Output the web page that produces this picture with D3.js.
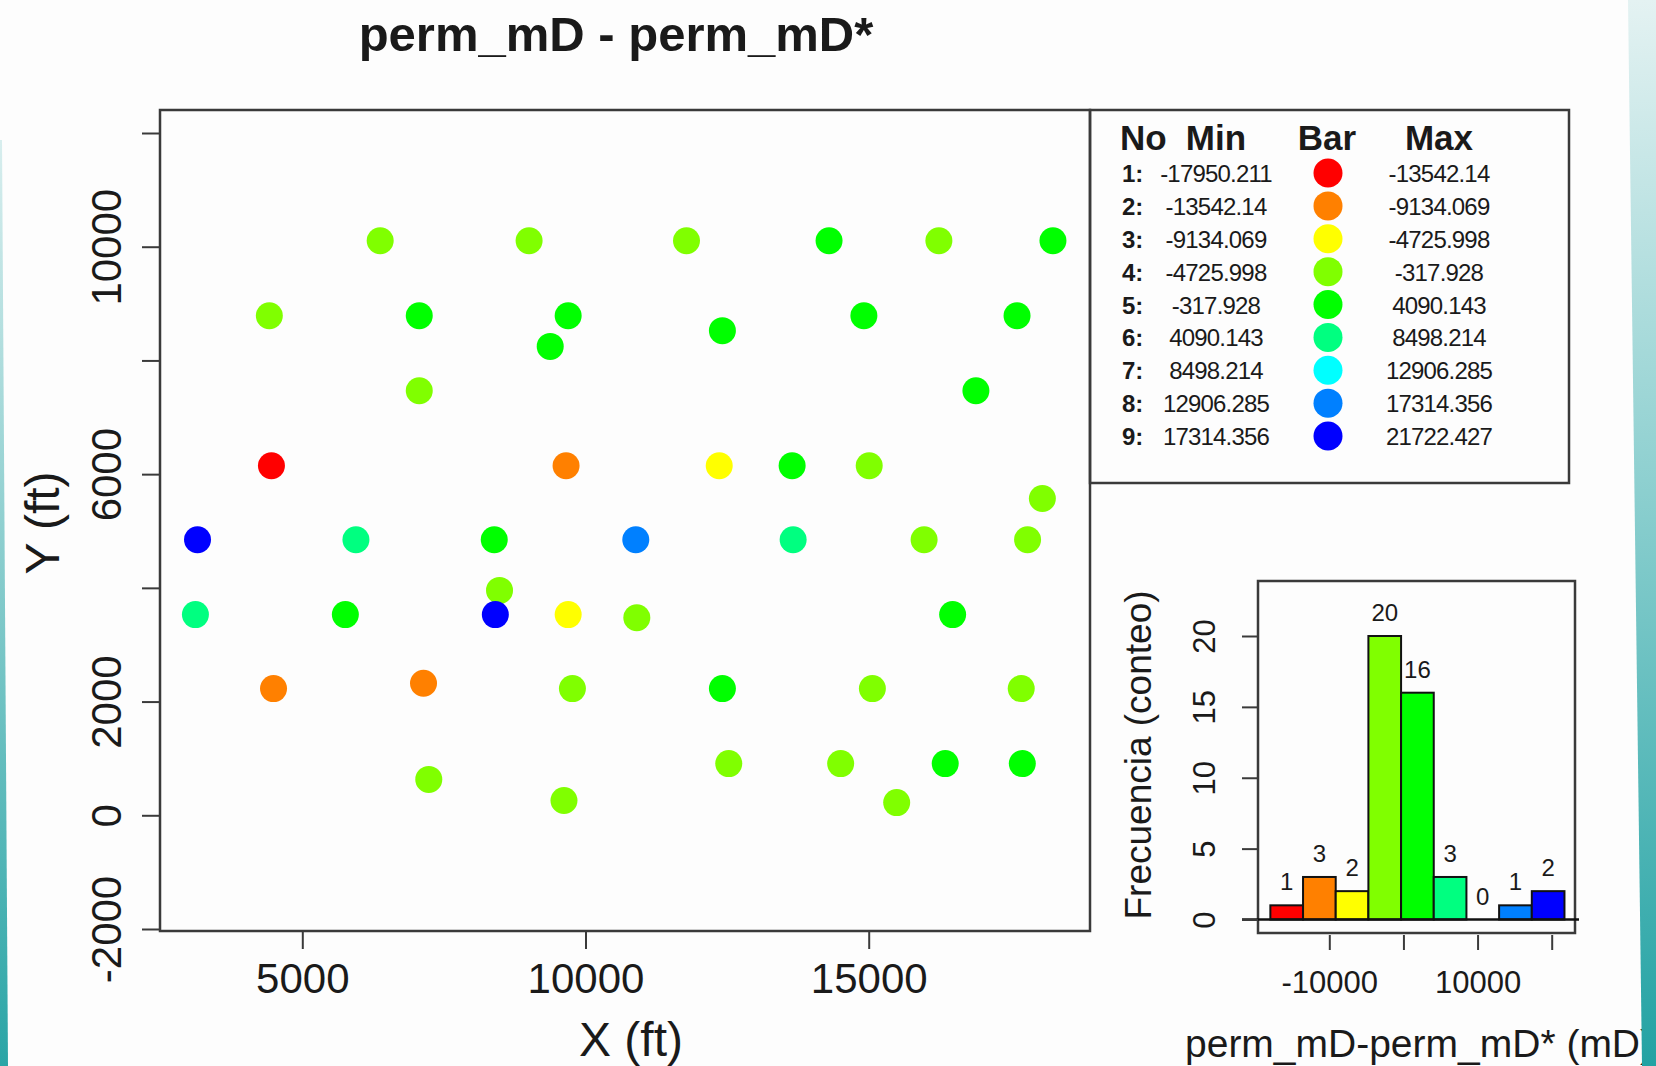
<!DOCTYPE html>
<html>
<head>
<meta charset="utf-8">
<script src="https://cdn.jsdelivr.net/npm/d3@7"></script>
<style>
  html, body { margin: 0; padding: 0; background: #fdfdfd; }
  svg { display: block; }
  text { font-family: "Liberation Sans", Arial, sans-serif; fill: #1a1a1a; }
</style>
</head>
<body>
<svg id="chart" width="1656" height="1066"></svg>
<script>
// ---- data ----------------------------------------------------------------
const titleText = "perm_mD - perm_mD*";

// class breaks of the difference perm_mD - perm_mD*
const classBreaks = [-17950.211, -13542.14, -9134.069, -4725.998, -317.928,
                     4090.143, 8498.214, 12906.285, 17314.356, 21722.427];
const classColors = ["#FF0000", "#FF8000", "#FFFF00", "#80FF00", "#00FF00",
                     "#00FF80", "#00FFFF", "#0080FF", "#0000FF"];

// well locations (ft) and the difference value at each well
const wellX = [6375, 9004, 11783, 14300, 16239, 18253,
               4418, 7065, 9694, 14915, 17619,
               12417, 9377,
               7065, 16893,
               4455, 9657, 12361, 13648, 15009,
               18066,
               3150, 5947, 8389, 10888, 13666, 15978, 17805,
               8482,
               3113, 5760, 8408, 9694, 16482,
               10906,
               4492, 9769, 12417, 15065, 17693,
               7140,
               12529, 14505, 16351, 17712,
               7233, 9620, 15494];
const wellY = [10104, 10104, 10104, 10104, 10104, 10104,
               8785, 8785, 8785, 8785, 8785,
               8524, 8247,
               7466, 7466,
               6148, 6148, 6148, 6148, 6148,
               5572,
               4847, 4847, 4847, 4847, 4847, 4847, 4847,
               3955,
               3530, 3530, 3530, 3530, 3530,
               3473,
               2228, 2228, 2228, 2228, 2228,
               2321,
               909, 909, 909, 909,
               631, 260, 223];
const wellDiff = [-2150, -1480, -3320, 1320, -2760, 2480,
                  -890, 640, 1870, 3150, 960,
                  2210, 3560,
                  -1930, 410,
                  -17950.211, -10620, -7150, 1540, -4120,
                  -1210,
                  21722.427, 5350, 2890, 14480, 7210, -2600, -3480,
                  -720,
                  6040, 780, 18630, -5830, 1990,
                  -1650,
                  -12380, -2980, 3380, -3900, -1340,
                  -11240,
                  -2280, -560, 1150, 2670,
                  -3110, -1760, -2450];

// axis ticks
const mapXTicks = [5000, 10000, 15000];
const mapYTicks = [-2000, 0, 2000, 4000, 6000, 8000, 10000, 12000];
const mapYLabeled = [-2000, 0, 2000, 6000, 10000];
const histXTicks = [-10000, 0, 10000, 20000];
const histXLabeled = [-10000, 10000];
const histYTicks = [0, 5, 10, 15, 20];

const mapXTitle = "X (ft)";
const mapYTitle = "Y (ft)";
const histXTitle = "perm_mD-perm_mD* (mD)";
const histYTitle = "Frecuencia (conteo)";
const legendHeads = ["No", "Min", "Bar", "Max"];

// ---- helpers -------------------------------------------------------------
const svg = d3.select("#chart");
const nClass = classColors.length;
const classOf = v => Math.max(0, Math.min(nClass - 1, d3.bisectLeft(classBreaks, v) - 1));
const counts = d3.range(nClass).map(i => wellDiff.filter(v => classOf(v) === i).length);
// plain ASCII hyphen for negative tick labels
const plain = d => String(d);

const frameStroke = "#3a3a3a";

// ---- page edge decoration ------------------------------------------------
const defs = svg.append("defs");
const gR = defs.append("linearGradient").attr("id", "edgeR")
  .attr("x1", 0).attr("y1", 0).attr("x2", 0).attr("y2", 1);
gR.append("stop").attr("offset", "0%").attr("stop-color", "#e4f2f2");
gR.append("stop").attr("offset", "45%").attr("stop-color", "#8ed0d0");
gR.append("stop").attr("offset", "100%").attr("stop-color", "#22a2a3");
const gL = defs.append("linearGradient").attr("id", "edgeL")
  .attr("x1", 0).attr("y1", 0).attr("x2", 0).attr("y2", 1);
gL.append("stop").attr("offset", "0%").attr("stop-color", "#d8eeee");
gL.append("stop").attr("offset", "100%").attr("stop-color", "#2aa5a6");

// ---- title ---------------------------------------------------------------
svg.append("text")
  .attr("x", 616).attr("y", 51)
  .attr("text-anchor", "middle")
  .style("font-size", "49px").style("font-weight", "bold")
  .text(titleText);

// ---- map panel -----------------------------------------------------------
const map = { left: 160, top: 110, right: 1090, bottom: 931 };
const xMap = d3.scaleLinear().domain([5000, 15000]).range([302.3, 868.7]);
const yMap = d3.scaleLinear().domain([-2000, 12000]).range([929, 133]);

svg.append("rect")
  .attr("x", map.left).attr("y", map.top)
  .attr("width", map.right - map.left).attr("height", map.bottom - map.top)
  .attr("fill", "none").attr("stroke", frameStroke).attr("stroke-width", 2.5);

const xAxisMap = d3.axisBottom(xMap).tickValues(mapXTicks)
  .tickSize(18).tickPadding(10).tickFormat(plain);
const gxm = svg.append("g").attr("transform", `translate(0,${map.bottom})`).call(xAxisMap);
gxm.select(".domain").remove();
gxm.selectAll(".tick line").attr("stroke", frameStroke).attr("stroke-width", 2);
gxm.selectAll(".tick text").attr("y", 62).attr("dy", null)
  .style("font-size", "42px").attr("fill", "#1a1a1a");

const yAxisMap = d3.axisLeft(yMap).tickValues(mapYTicks)
  .tickSize(18).tickFormat(d => mapYLabeled.includes(d) ? plain(d) : "");
const gym = svg.append("g").attr("transform", `translate(${map.left},0)`).call(yAxisMap);
gym.select(".domain").remove();
gym.selectAll(".tick line").attr("stroke", frameStroke).attr("stroke-width", 2);
gym.selectAll(".tick text")
  .attr("x", null).attr("dy", null)
  .attr("text-anchor", "middle")
  .attr("transform", `translate(${121 - map.left},0) rotate(-90)`)
  .style("font-size", "42px").attr("fill", "#1a1a1a");

svg.append("text")
  .attr("x", 631).attr("y", 1056).attr("text-anchor", "middle")
  .style("font-size", "48px").text(mapXTitle);
svg.append("text")
  .attr("transform", "translate(59,523) rotate(-90)").attr("text-anchor", "middle")
  .style("font-size", "48px").text(mapYTitle);

svg.append("g").selectAll("circle")
  .data(d3.range(wellX.length))
  .join("circle")
  .attr("cx", i => xMap(wellX[i]))
  .attr("cy", i => yMap(wellY[i]))
  .attr("r", 13.5)
  .attr("fill", i => classColors[classOf(wellDiff[i])]);

// ---- legend table --------------------------------------------------------
const leg = { left: 1090, top: 110, right: 1569, bottom: 483 };
svg.append("rect")
  .attr("x", leg.left).attr("y", leg.top)
  .attr("width", leg.right - leg.left).attr("height", leg.bottom - leg.top)
  .attr("fill", "none").attr("stroke", frameStroke).attr("stroke-width", 2.5);

const colX = [1120, 1216, 1327, 1439];
const headAnchor = ["start", "middle", "middle", "middle"];
svg.append("g").selectAll("text")
  .data(legendHeads)
  .join("text")
  .attr("x", (d, i) => colX[i]).attr("y", 150)
  .attr("text-anchor", (d, i) => headAnchor[i])
  .style("font-size", "35px").style("font-weight", "bold")
  .text(d => d);

const rowY = d3.scaleLinear().domain([0, 8]).range([182, 445]);
const legRows = svg.append("g").selectAll("g")
  .data(d3.range(nClass))
  .join("g")
  .attr("transform", i => `translate(0,${rowY(i)})`);
legRows.append("text").attr("x", colX[0] + 2)
  .style("font-size", "24px").style("font-weight", "bold")
  .text(i => `${i + 1}:`);
legRows.append("text").attr("x", colX[1]).attr("text-anchor", "middle")
  .style("font-size", "24px").style("letter-spacing", "-0.8px")
  .text(i => String(classBreaks[i]));
legRows.append("circle").attr("cx", colX[2] + 1).attr("cy", -9).attr("r", 14.5)
  .attr("fill", i => classColors[i]);
legRows.append("text").attr("x", colX[3]).attr("text-anchor", "middle")
  .style("font-size", "24px").style("letter-spacing", "-0.8px")
  .text(i => String(classBreaks[i + 1]));

// ---- histogram -----------------------------------------------------------
const hist = { left: 1258, top: 581, right: 1575, bottom: 933 };
const xHist = d3.scaleLinear().domain([-10000, 20000]).range([1329.3, 1551.7]);
const yHist = d3.scaleLinear().domain([0, 20]).range([919.5, 636]);

svg.append("rect")
  .attr("x", hist.left).attr("y", hist.top)
  .attr("width", hist.right - hist.left).attr("height", hist.bottom - hist.top)
  .attr("fill", "none").attr("stroke", frameStroke).attr("stroke-width", 2.5);

const bars = svg.append("g").selectAll("g")
  .data(d3.range(nClass))
  .join("g");
bars.append("rect")
  .attr("x", i => xHist(classBreaks[i]))
  .attr("width", i => xHist(classBreaks[i + 1]) - xHist(classBreaks[i]))
  .attr("y", i => yHist(counts[i]))
  .attr("height", i => yHist(0) - yHist(counts[i]))
  .attr("fill", i => classColors[i])
  .attr("stroke", "#111").attr("stroke-width", 2);
bars.append("text")
  .attr("x", i => (xHist(classBreaks[i]) + xHist(classBreaks[i + 1])) / 2)
  .attr("y", i => yHist(counts[i]) - 15)
  .attr("text-anchor", "middle")
  .style("font-size", "24px").attr("fill", "#333")
  .text(i => counts[i]);

// zero line across the histogram
svg.append("line")
  .attr("x1", hist.left - 16).attr("x2", hist.right + 4)
  .attr("y1", yHist(0)).attr("y2", yHist(0))
  .attr("stroke", "#111").attr("stroke-width", 2.5);

const xAxisHist = d3.axisBottom(xHist).tickValues(histXTicks)
  .tickSize(15).tickFormat(d => histXLabeled.includes(d) ? plain(d) : "");
const gxh = svg.append("g").attr("transform", `translate(0,${hist.bottom + 2})`).call(xAxisHist);
gxh.select(".domain").remove();
gxh.selectAll(".tick line").attr("stroke", frameStroke).attr("stroke-width", 2);
gxh.selectAll(".tick text").attr("y", 58).attr("dy", null)
  .style("font-size", "31px").attr("fill", "#1a1a1a");

const yAxisHist = d3.axisLeft(yHist).tickValues(histYTicks).tickSize(16).tickFormat(plain);
const gyh = svg.append("g").attr("transform", `translate(${hist.left},0)`).call(yAxisHist);
gyh.select(".domain").remove();
gyh.selectAll(".tick line").attr("stroke", frameStroke).attr("stroke-width", 2);
gyh.selectAll(".tick text")
  .attr("x", null).attr("dy", null)
  .attr("text-anchor", "middle")
  .attr("transform", `translate(${1215 - hist.left},0) rotate(-90)`)
  .style("font-size", "31px").attr("fill", "#1a1a1a");

svg.append("text")
  .attr("x", 1185).attr("y", 1057)
  .style("font-size", "39px").text(histXTitle);
svg.append("text")
  .attr("transform", "translate(1151,755) rotate(-90)").attr("text-anchor", "middle")
  .style("font-size", "37px").text(histYTitle);

// ---- page edge bands -----------------------------------------------------
svg.append("path")
  .attr("d", "M1628,0 L1656,0 L1656,1066 L1642,1066 Z")
  .attr("fill", "url(#edgeR)");
svg.append("path")
  .attr("d", "M0,140 L2,140 L8,1066 L0,1066 Z")
  .attr("fill", "url(#edgeL)");
</script>
</body>
</html>
